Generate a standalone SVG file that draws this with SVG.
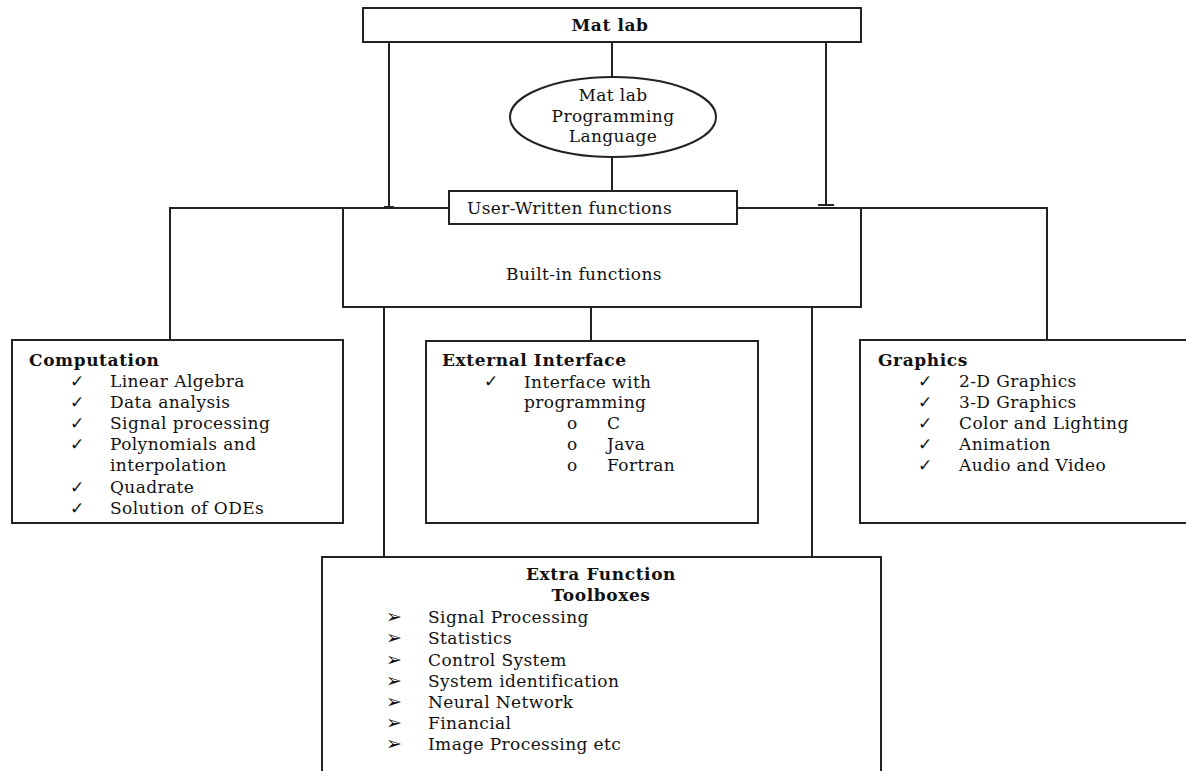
<svg xmlns="http://www.w3.org/2000/svg" width="1186" height="771" viewBox="0 0 1186 771">
<style>
.box{fill:#fff;stroke:#222;stroke-width:2}
.ln{fill:none;stroke:#222;stroke-width:2}
.t{font-family:"DejaVu Serif","Liberation Serif",serif;font-size:17px;letter-spacing:0.4px;fill:#111}
.b{font-family:"DejaVu Serif","Liberation Serif",serif;font-size:17px;font-weight:bold;letter-spacing:0.6px;fill:#111}
.ck{font-family:"DejaVu Sans",sans-serif;font-size:17px;fill:#111}
.ar{font-family:"DejaVu Sans",sans-serif;font-size:19px;fill:#111}
</style>
<rect width="1186" height="771" fill="#fff"/>
<g id="connectors">
<path class="ln" d="M389,42 V207 M384,207 H394"/>
<path class="ln" d="M612,42 V77"/>
<path class="ln" d="M826,42 V205 M818,205 H834"/>
<path class="ln" d="M612,157 V191"/>
<path class="ln" d="M170,340 V208 H1047 V340"/>
<path class="ln" d="M384,307 V557 M591,307 V341 M812,307 V557"/>
</g>
<g id="matlab">
<rect class="box" x="363" y="8" width="498" height="34"/>
<text class="b" x="610" y="31" text-anchor="middle">Mat lab</text>
</g>
<g id="language">
<ellipse class="box" cx="613" cy="117" rx="103" ry="40" stroke-width="1.5"/>
<text class="t" x="613" y="101" text-anchor="middle">Mat lab</text>
<text class="t" x="613" y="122" text-anchor="middle">Programming</text>
<text class="t" x="613" y="142" text-anchor="middle">Language</text>
</g>
<g id="builtin">
<rect class="box" x="343" y="208" width="518" height="99"/>
<text class="t" x="584" y="280" text-anchor="middle">Built-in functions</text>
</g>
<g id="userwritten">
<rect class="box" x="449" y="191" width="288" height="33"/>
<text class="t" x="467" y="214">User-Written functions</text>
</g>
<g id="computation">
<rect class="box" x="12" y="340" width="331" height="183"/>
<text class="b" x="29" y="366">Computation</text>
<g class="ck"><text x="70" y="387">✓</text><text x="70" y="408">✓</text><text x="70" y="429">✓</text><text x="70" y="450">✓</text><text x="70" y="493">✓</text><text x="70" y="514">✓</text></g>
<text class="t" x="110" y="387">Linear Algebra</text>
<text class="t" x="110" y="408">Data analysis</text>
<text class="t" x="110" y="429">Signal processing</text>
<text class="t" x="110" y="450">Polynomials and</text>
<text class="t" x="110" y="471">interpolation</text>
<text class="t" x="110" y="493">Quadrate</text>
<text class="t" x="110" y="514">Solution of ODEs</text>
</g>
<g id="external">
<rect class="box" x="426" y="341" width="332" height="182"/>
<text class="b" x="442" y="366">External Interface</text>
<text class="ck" x="484" y="387">✓</text>
<text class="t" x="524" y="388">Interface with</text>
<text class="t" x="524" y="408">programming</text>
<text class="t" x="567" y="429">o</text><text class="t" x="607" y="429">C</text>
<text class="t" x="567" y="450">o</text><text class="t" x="607" y="450">Java</text>
<text class="t" x="567" y="471">o</text><text class="t" x="607" y="471">Fortran</text>
</g>
<g id="graphics">
<rect class="box" x="860" y="340" width="340" height="183"/>
<text class="b" x="878" y="366">Graphics</text>
<g class="ck"><text x="918" y="387">✓</text><text x="918" y="408">✓</text><text x="918" y="429">✓</text><text x="918" y="450">✓</text><text x="918" y="471">✓</text></g>
<text class="t" x="959" y="387">2-D Graphics</text>
<text class="t" x="959" y="408">3-D Graphics</text>
<text class="t" x="959" y="429">Color and Lighting</text>
<text class="t" x="959" y="450">Animation</text>
<text class="t" x="959" y="471">Audio and Video</text>
</g>
<g id="toolboxes">
<rect class="box" x="322" y="557" width="559" height="230"/>
<text class="b" x="601" y="580" text-anchor="middle">Extra Function</text>
<text class="b" x="601" y="601" text-anchor="middle">Toolboxes</text>
<g class="ar"><text x="386" y="623">➢</text><text x="386" y="644">➢</text><text x="386" y="666">➢</text><text x="386" y="687">➢</text><text x="386" y="708">➢</text><text x="386" y="729">➢</text><text x="386" y="750">➢</text></g>
<text class="t" x="428" y="623">Signal Processing</text>
<text class="t" x="428" y="644">Statistics</text>
<text class="t" x="428" y="666">Control System</text>
<text class="t" x="428" y="687">System identification</text>
<text class="t" x="428" y="708">Neural Network</text>
<text class="t" x="428" y="729">Financial</text>
<text class="t" x="428" y="750">Image Processing etc</text>
</g>
</svg>
